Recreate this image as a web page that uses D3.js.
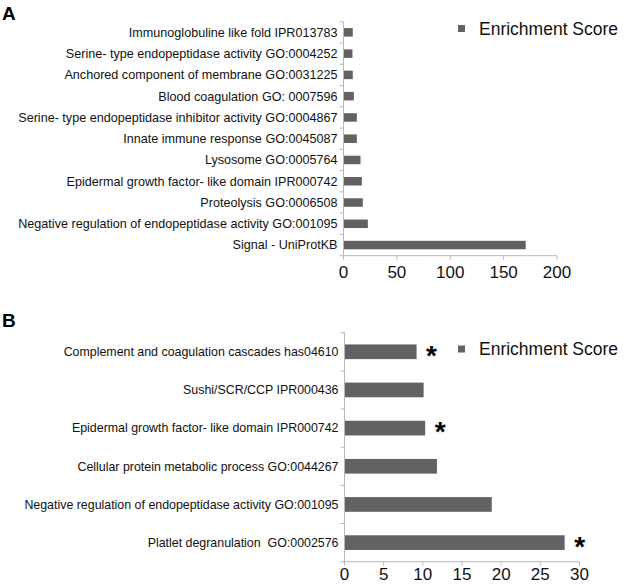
<!DOCTYPE html>
<html><head><meta charset="utf-8">
<script src="https://cdn.jsdelivr.net/npm/d3@7"></script>
<style>
html,body{margin:0;padding:0;background:#fff;}
svg{display:block;font-family:"Liberation Sans",Arial,sans-serif;}
text{white-space:pre;}
</style></head>
<body>
<svg id="chart" width="627" height="584"></svg>
<script>
const categoriesA = [
  "Immunoglobuline like fold IPR013783",
  "Serine- type endopeptidase activity GO:0004252",
  "Anchored component of membrane GO:0031225",
  "Blood coagulation GO: 0007596",
  "Serine- type endopeptidase inhibitor activity GO:0004867",
  "Innate immune response GO:0045087",
  "Lysosome GO:0005764",
  "Epidermal growth factor- like domain IPR000742",
  "Proteolysis GO:0006508",
  "Negative regulation of endopeptidase activity GO:001095",
  "Signal - UniProtKB"
];
const valuesA = [8.7, 8.4, 8.7, 9.7, 12.5, 12.5, 15.9, 17.2, 18.1, 22.8, 170.7];
const ticksA = [0, 50, 100, 150, 200];

const categoriesB = [
  "Complement and coagulation cascades has04610",
  "Sushi/SCR/CCP IPR000436",
  "Epidermal growth factor- like domain IPR000742",
  "Cellular protein metabolic process GO:0044267",
  "Negative regulation of endopeptidase activity GO:001095",
  "Platlet degranulation  GO:0002576"
];
const valuesB = [9.2, 10.1, 10.3, 11.8, 18.8, 28.1];
const starredB = [true, false, true, false, false, true];
const ticksB = [0, 5, 10, 15, 20, 25, 30];

const legendLabel = "Enrichment Score";
const barColor = "#626262";
const axisColor = "#b8b8b8";
const textColor = "#111";

const svg = d3.select("#chart");

function panel(cfg) {
  const g = svg.append("g");
  const x = d3.scaleLinear().domain(cfg.domain).range([cfg.x0, cfg.x1]);
  const y = d3.scaleBand().domain(cfg.cats).range([cfg.y0, cfg.y1]).paddingInner(cfg.pad).paddingOuter(cfg.pad / 2);
  const yb = d3.scaleBand().domain(cfg.cats).range([cfg.y0, cfg.y1]);

  g.selectAll("rect.bar").data(cfg.vals).join("rect")
    .attr("class", "bar")
    .attr("x", x(0))
    .attr("y", (d, i) => y(cfg.cats[i]))
    .attr("width", d => x(d) - x(0))
    .attr("height", y.bandwidth())
    .attr("fill", barColor);

  g.append("line").attr("x1", x(0)).attr("x2", x(0)).attr("y1", cfg.y0).attr("y2", cfg.y1)
    .attr("stroke", axisColor).attr("stroke-width", 1);
  const bounds = cfg.cats.map(c => yb(c)).concat([cfg.y1]);
  g.selectAll("line.yt").data(bounds).join("line")
    .attr("class", "yt")
    .attr("x1", x(0) - 4).attr("x2", x(0))
    .attr("y1", d => d).attr("y2", d => d)
    .attr("stroke", axisColor);
  g.selectAll("text.cat").data(cfg.cats).join("text")
    .attr("class", "cat")
    .attr("x", x(0) - 6)
    .attr("y", c => yb(c) + yb.bandwidth() / 2)
    .attr("dy", "0.35em")
    .attr("text-anchor", "end")
    .attr("font-size", cfg.catSize)
    .attr("fill", textColor)
    .text(c => c);

  g.append("line").attr("x1", x(0)).attr("x2", x(cfg.domain[1])).attr("y1", cfg.y1).attr("y2", cfg.y1)
    .attr("stroke", axisColor);
  g.selectAll("line.xt").data(cfg.ticks).join("line")
    .attr("class", "xt")
    .attr("x1", d => x(d)).attr("x2", d => x(d))
    .attr("y1", cfg.y1).attr("y2", cfg.y1 + 4)
    .attr("stroke", axisColor);
  g.selectAll("text.xl").data(cfg.ticks).join("text")
    .attr("class", "xl")
    .attr("x", d => x(d))
    .attr("y", cfg.y1 + cfg.tickOff)
    .attr("dy", "0.35em")
    .attr("text-anchor", "middle")
    .attr("font-size", 17)
    .attr("fill", textColor)
    .text(d => d);

  g.append("rect").attr("x", 458).attr("y", cfg.legY - 3.5).attr("width", 7).attr("height", 7).attr("fill", barColor);
  g.append("text").attr("x", 479).attr("y", cfg.legY).attr("dy", "0.35em")
    .attr("font-size", 17.5).attr("fill", textColor).text(legendLabel);

  g.append("text").attr("x", 2).attr("y", cfg.letY).attr("font-size", 19).attr("font-weight", "bold")
    .attr("fill", "#000").text(cfg.letter);

  return {g, x, y};
}

panel({cats: categoriesA, vals: valuesA, ticks: ticksA, domain: [0, 200],
  x0: 343.5, x1: 557, y0: 21.7, y1: 255.7, pad: 0.6, legY: 28.5, letY: 19.5, letter: "A",
  catSize: 12.6, tickOff: 16});

const pB = panel({cats: categoriesB, vals: valuesB, ticks: ticksB, domain: [0, 30],
  x0: 344.5, x1: 579.5, y0: 332.7, y1: 561.7, pad: 0.615, legY: 349, letY: 327, letter: "B",
  catSize: 12.4, tickOff: 12.5});

pB.g.selectAll("text.star").data(valuesB.map((v, i) => ({v, i})).filter(d => starredB[d.i])).join("text")
  .attr("class", "star")
  .attr("x", d => pB.x(d.v) + 15)
  .attr("y", d => pB.y(categoriesB[d.i]) + pB.y.bandwidth() / 2 + 13)
  .attr("text-anchor", "middle")
  .attr("font-size", 28).attr("font-weight", "bold").attr("fill", "#000")
  .text("*");
</script>
</body></html>
